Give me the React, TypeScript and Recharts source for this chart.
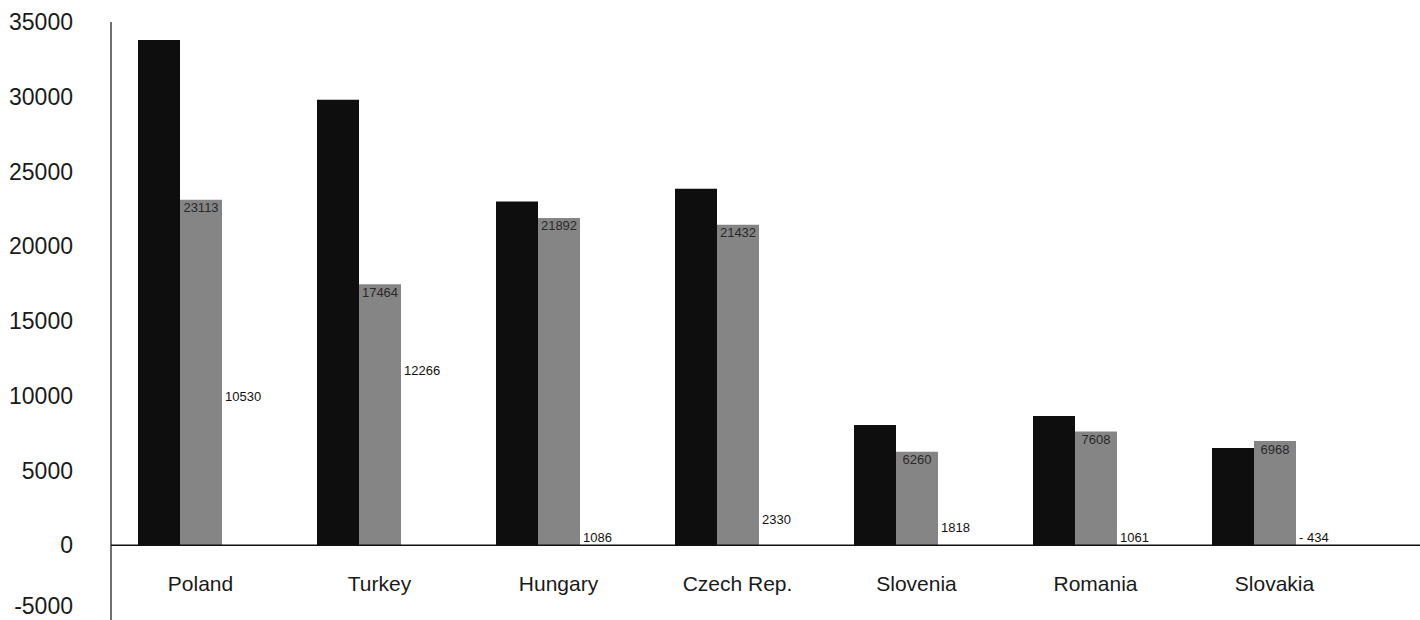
import { BarChart, Bar, XAxis, YAxis, ReferenceLine, LabelList } from "recharts";

// Country comparison, three series per country.
const categories = ["Poland", "Turkey", "Hungary", "Czech Rep.", "Slovenia", "Romania", "Slovakia"];
const seriesA = [33800, 29800, 23000, 23850, 8050, 8650, 6500];
const seriesB = [23113, 17464, 21892, 21432, 6260, 7608, 6968];
const seriesC = [10530, 12266, 1086, 2330, 1818, 1061, -434];
const yTicks = [-5000, 0, 5000, 10000, 15000, 20000, 25000, 30000, 35000];

const data = categories.map((name, i) => ({ name, a: seriesA[i], b: seriesB[i], c: seriesC[i] }));

const FONT = '"Liberation Sans", Arial, Helvetica, sans-serif';

const fmt = (v: number) => (v < 0 ? `- ${Math.abs(v)}` : `${v}`);

function YTick(props: any) {
  const { x, y, payload } = props;
  return (
    <text x={x} y={Math.min(y, 606)} textAnchor="end" dominantBaseline="central" fontSize={23} fill="#1a1a1a" fontFamily={FONT}>
      {payload.value}
    </text>
  );
}

function XTick(props: any) {
  const { x, y, payload } = props;
  // axis sits below the plot (outside the view); pull the labels up under the zero line
  return (
    <text x={x} y={y - 45} textAnchor="middle" dominantBaseline="central" fontSize={21} fill="#1a1a1a" fontFamily={FONT}>
      {payload.value}
    </text>
  );
}

function GrayLabel(props: any) {
  const { x, y, width, height, value } = props;
  const top = Math.min(y, y + height);
  return (
    <text x={x + width / 2} y={top + 8} textAnchor="middle" dominantBaseline="central" fontSize={13} fill="#2a2a2a" fontFamily={FONT}>
      {fmt(value)}
    </text>
  );
}

function ThirdLabel(props: any) {
  const { x, y, height, value } = props;
  const top = Math.min(y, y + height);
  const bottom = Math.max(y, y + height);
  const base = value >= 0 ? bottom : top;
  const cy = Math.min(top + 9, base - 8);
  return (
    <text x={x + 3} y={cy} textAnchor="start" dominantBaseline="central" fontSize={13} fill="#111" fontFamily={FONT}>
      {fmt(value)}
    </text>
  );
}

export default function App() {
  return (
    <div style={{ position: "absolute", left: 0, top: 0, width: 1420, height: 620, background: "#fff", overflow: "hidden" }}>
      <BarChart
        width={1420}
        height={620}
        data={data}
        margin={{ top: 22, right: 0, left: 0, bottom: -30 }}
        barCategoryGap={27}
        barGap={0}
        style={{ overflow: "visible" }}
      >
        <XAxis
          dataKey="name"
          height={30}
          axisLine={false}
          tickLine={false}
          tickSize={0}
          tickMargin={8}
          padding={{ left: 0, right: 56 }}
          interval={0}
          tick={<XTick />}
        />
        <YAxis
          width={111}
          domain={[-5000, 35000]}
          ticks={yTicks}
          interval={0}
          axisLine={{ stroke: "#111", strokeWidth: 1.2 }}
          tickLine={false}
          tickSize={0}
          tickMargin={38}
          tick={<YTick />}
        />
        <ReferenceLine y={0} stroke="#111" strokeWidth={1.5} />
        <Bar dataKey="a" fill="#0e0e0e" isAnimationActive={false} />
        <Bar dataKey="b" fill="#858585" isAnimationActive={false}>
          <LabelList dataKey="b" content={<GrayLabel />} />
        </Bar>
        <Bar dataKey="c" fill="#ffffff" isAnimationActive={false}>
          <LabelList dataKey="c" content={<ThirdLabel />} />
        </Bar>
      </BarChart>
    </div>
  );
}
